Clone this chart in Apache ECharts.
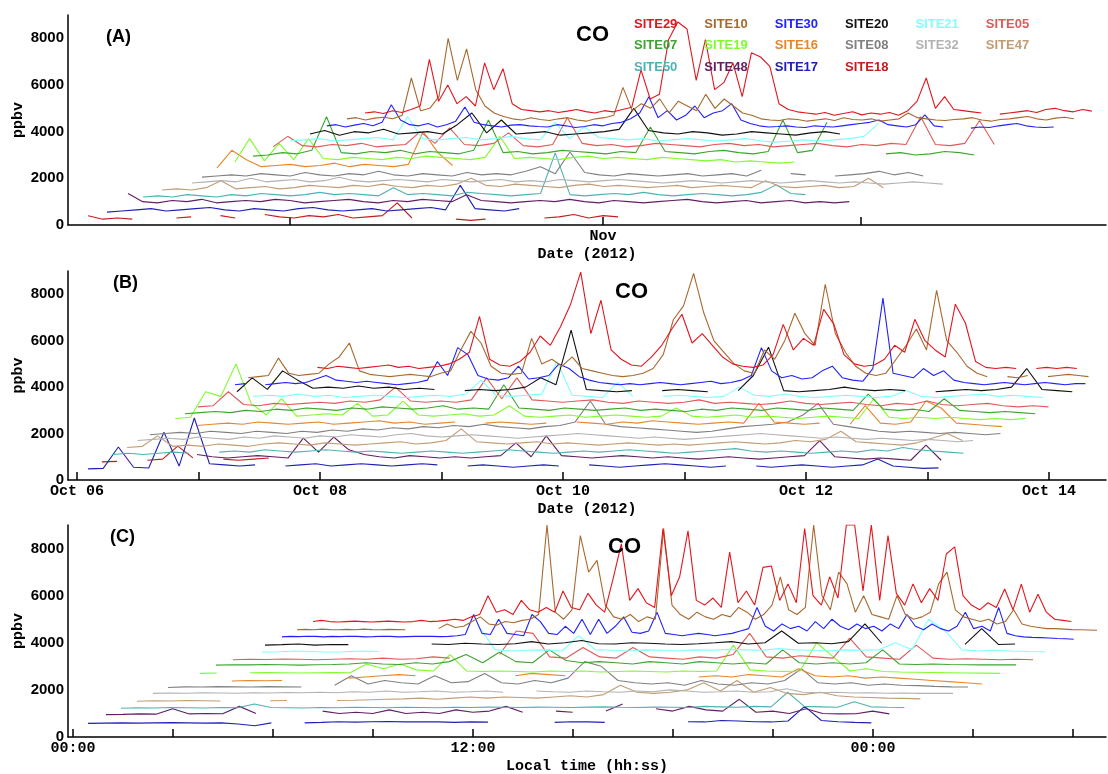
<!DOCTYPE html>
<html>
<head>
<meta charset="utf-8">
<script src="https://cdn.jsdelivr.net/npm/echarts@6/dist/echarts.min.js"></script>
<style>
html, body { margin: 0; padding: 0; background: #fff; }
#main { width: 1108px; height: 774px; }
</style>
</head>
<body>
<div id="main"></div>
<script>
// CO 浓度 (ppbv)，三个面板：(A) 全时段，(B) 10月6-14日，(C) 按当地时间

var sites = ['SITE29','SITE10','SITE30','SITE20','SITE21','SITE05',
             'SITE07','SITE19','SITE16','SITE08','SITE32','SITE47',
             'SITE50','SITE48','SITE17','SITE18'];
var siteColors = ['#e3161e','#a8692f','#2222ff','#111111','#80ffff','#e05a5a',
                  '#3da52f','#7ffc2c','#e8862a','#808080','#b2b2b2','#c29c74',
                  '#4fb2b2','#641e64','#2020b4','#c41c1c'];

var yTicks = [0, 2000, 4000, 6000, 8000];

// (A) x = 2012-10-01 起的天数
var ticksA = [14, 31, 45];
var labelValsA = [31];
var labelTextsA = ['Nov'];
var startA = [18.07, 17.09, 16.0, 15.08, 13.99, 13.07, 11.98, 11.0, 10.03, 9.21, 8.67, 7.04, 6.01, 5.19, 4.05, 3.02];
var stepA = [0.5, 0.5, 0.5, 0.8, 0.8, 0.8, 0.8, 0.8, 0.8, 0.8, 0.8, 0.8, 0.8, 0.8, 0.8, 0.8];

var a29 = [4800,4850,4780,4900,4820,4950,5100,7100,5300,6000,5200,5500,5100,6950,5800,6700,5200,4950,4900,
  4850,4900,4820,4880,4950,4860,4800,4900,4850,4950,5050,
  6650,5400,5600,7950,8700,8400,6200,7950,5800,6100,6950,5500,7380,7200,6800,5200,4950,
  4850,4800,4750,4820,4700,4780,4850,4720,4800,4750,4820,4700,4900,
  5300,6300,5000,5500,4950,4900,
  4850,4800,null,4750,4800,4850,4900,4820,4950,5000,4900,4850,4950,4880];
var a10 = [4550,4600,4500,4580,4620,4550,4700,6300,4900,5000,5500,8000,6200,7550,5800,5100,4800,4650,
  4550,4500,4600,4520,4480,4550,4600,4500,4450,4550,4600,4700,
  5900,4900,5200,5000,5400,4800,5300,5100,4900,5600,5000,5400,5100,4800,4700,
  4550,4500,4480,4550,4520,4450,4500,4550,4480,4600,4520,4500,4550,4450,4500,4550,4800,4600,4550,4500,
  4480,4520,4550,4600,4500,4450,4520,4550,4600,4650,4550,4500,4580,4620,4550];
var a30 = [4250,4300,4200,4280,4350,4250,4400,5150,4500,4300,4250,4350,4200,4300,4450,5060,4400,4300,
  4250,4200,4280,4300,4250,4220,4200,4300,4250,4180,4220,4300,4250,4350,4400,4550,
  4800,5500,4600,4900,4500,4700,5100,4600,4800,4900,5200,4500,
  4350,4250,4200,4220,4250,4200,4180,4250,4220,4200,4250,4300,4350,4400,4500,4300,4250,4200,4300,4720,
  4250,4200,null,null,4150,4200,4180,4250,4300,4350,4250,4200,4180,4200];
var a20 = [3900,4050,3850,4000,3950,4100,3900,3950,4000,3900,4300,4800,3950,4500,3900,3950,4000,3850,3900,3950,
  4000,4100,5000,4050,3950,3900,4000,3950,3850,3900,4000,3950,3900,3850,3950,4000,3900];
var a21 = [3600,3650,3700,3600,3650,3700,3750,3650,4640,3700,3650,3700,3750,3650,3700,3800,3700,3650,4400,3700,
  4200,3750,3700,3650,3700,3600,3650,3700,3650,3600,3650,3700,3600,3550,3600,3650,3600,3650,3700,3800,4370];
var a05 = [3350,3800,3400,3350,3450,3400,3500,3350,3400,3450,4000,3500,4160,3450,3400,3500,3950,3400,3350,3450,
  4600,3500,3400,3450,3350,3400,3500,3450,3400,3350,3450,3500,3400,3450,3350,3400,3450,3500,3400,3350,
  3450,3400,3500,3450,4640,3450,3400,3500,4480,3450];
var a07 = [2950,3000,3100,3050,3200,4640,3100,3050,3150,3100,3200,3050,3150,3100,3050,3200,4500,3100,3150,3050,
  3100,3200,3150,3100,3050,3150,3100,4200,3150,3100,3050,3150,3200,3100,3050,3150,4500,3100,3200,4400,
  null,null,null,3050,3100,3000,3050,3150,3100,3000];
var a19 = [2700,3700,2750,3500,2800,3700,2850,2800,2900,2850,2800,2900,2850,2950,2900,2850,2800,2900,3800,2850,
  2900,2850,2800,2900,2950,2850,2900,2850,2800,2900,2850,2800,2750,2800,2700,2750,2700,2650,2700];
var a16 = [2450,3200,2800,2500,2550,2600,2500,2550,2650,2500,2600,2550,2500,2600,4000,3100,2550];
var a08 = [2050,2100,2150,2100,2200,2150,2100,2250,2150,2100,2200,2150,2300,2150,2100,2200,2150,2100,2250,2150,
  2200,2150,2300,2500,2200,3130,2250,2150,2100,2200,2150,2100,2150,2200,2100,2150,2200,2100,2350,null,
  2200,2150,null,2100,2150,2200,2300,2150,2250,2100];
var a32 = [1800,1850,1900,1850,2000,1850,1900,1950,1850,1900,2050,1900,1850,1900,1950,1900,1850,1950,1900,1850,
  1900,1950,1850,1900,1850,1950,1900,1850,1900,1950,1900,1850,1800,1850,1900,1850,1800,1850,1900,1850,
  1800,1850,1900,1850,1800,1850,1800,1750,1800,1850,1800,1750];
var a47 = [1500,1550,1500,1600,1900,1550,1600,1650,1550,1600,1700,1650,1600,1700,1650,1750,1650,1600,1700,1650,
  1750,2000,1700,1650,1750,1700,1650,1600,1700,1750,1650,1700,1650,1600,1650,1700,1600,1650,1700,1650,
  1600,1900,1650,1600,1650,1700,1600,1650,2000,1600];
var a50 = [1200,1250,1200,1300,1250,1200,1300,1250,1350,1300,1250,1300,1400,1300,1350,1300,1250,1600,1300,1350,
  1300,1250,1400,1350,1300,1250,1300,1350,3090,1300,1250,1300,1350,1300,1400,1300,1250,1300,1350,1300,
  1250,1300,1400,1720,1350,1300];
var a48 = [1350,1000,950,1050,1000,1100,950,1000,1050,1000,1100,1050,950,1000,1050,1100,1000,950,1050,1000,
  1100,1050,1000,1300,1050,1000,950,1000,1050,1000,1100,1000,950,1050,1000,950,1000,1050,1100,1000,
  950,1000,1050,950,1000,1050,950,1000,950,1000];
var a17 = [550,600,650,700,600,650,700,750,650,600,700,650,600,700,750,650,600,650,700,600,
  650,700,750,650,1700,700,650,600,700,null,650];
var a18 = [400,250,300,250,null,null,300,350,null,400,300,null,450,350,300,400,350,450,300,350,
  400,950,300,null,null,250,200,250,null,null,null,300,350,450,300,400,350];
var valuesA = [a29,a10,a30,a20,a21,a05,a07,a19,a16,a08,a32,a47,a50,a48,a17,a18];

// (B) x = 2012-10-06 00:00 起的小时数
var ticksB = [0, 24, 48, 72, 96, 120, 144, 168, 192];
var labelValsB = [0, 48, 96, 144, 192];
var labelTextsB = ['Oct 06', 'Oct 08', 'Oct 10', 'Oct 12', 'Oct 14'];
var startB = [43.5, 33.8, 31.2, 31.6, 34.8, 23.9, 21.3, 19.4, 23.7, 14.4, 12.0, 9.9, 7.1, 23.7, 2.17, 4.9];
var stepB = [2, 2, 2, 3, 3, 3, 3, 3, 3, 3, 3, 3, 3, 3, 3, 3];

var b29 = [4800,null,4850,4800,4900,4850,4800,4850,4900,4950,4850,4900,4800,4850,4900,5000,5200,5500,7050,5200,
  4950,4900,5100,5500,6200,5800,6600,7570,8950,6300,7740,5600,5200,4950,4900,5300,5800,6500,7140,5900,
  6300,5800,5300,5000,4900,4850,4950,5400,6700,5600,6100,5800,7350,6710,5400,5000,4900,4950,5200,5800,
  5500,6920,6000,5600,5300,7570,6750,5100,4850,4800,4850,4800,null,4800,4850,4800,4850,4800];
var b10 = [4400,4450,4500,5250,4600,4500,4550,4600,5000,5300,5900,4700,4550,4500,4450,4500,4550,4500,4450,4600,
  4700,5600,6400,5900,4900,4600,4550,4600,6100,5000,5200,4900,5300,4800,4700,4600,4500,4450,4500,4600,
  4800,5400,6900,7500,8900,7200,6000,5500,5000,4700,4600,5600,5200,6000,7180,6300,5800,8430,6300,5500,
  4900,4600,4500,4600,5200,5800,6500,5600,8170,6000,5500,4900,4600,4450,null,4450,4400,4500,null,4450,
  4500,4550,4500,4450];
var b30 = [4100,4150,null,4100,4150,4200,4150,4200,4350,4500,4300,4250,4200,4250,4200,4150,4100,4150,4200,4300,
  5100,4500,5700,5400,4500,4350,4300,4400,4900,4350,4400,4500,5000,4800,4450,4300,4200,4150,4100,4150,
  4100,4150,4200,4150,4100,4150,4200,4250,4150,4200,4300,4500,5700,4700,4400,4500,4350,4400,4700,4900,
  4400,4300,4250,4800,7830,4600,4500,4400,4800,4500,4700,4300,4200,4150,4100,4150,4200,4150,4100,4150,
  4200,4150,4100,4150,4150];
var b20 = [3800,4400,3900,4700,4300,3950,4000,3950,4050,3950,4000,3900,3950,3900,null,3850,3900,3850,3900,4000,
  4400,4100,6450,3900,3850,3800,3850,null,3850,3900,3850,3800,null,3850,4500,5720,3850,3800,3850,3900,
  4000,3900,3850,3900,3850,null,3800,3850,3900,3850,3900,4000,4800,3900,3850,3800];
var b21 = [3600,3650,3600,3700,3600,3650,3550,3600,3650,3600,3550,3600,3650,3600,3700,4300,3650,3600,3650,3700,
  5100,3650,3600,3550,4200,3600,null,3600,3650,3600,3550,3600,4000,3650,3600,3700,3600,3550,3600,3650,
  3600,3550,3600,3850,3600,3550,3600,3650,3700,3600,3650,3600,3550];
var b05 = [3150,3200,3800,3250,3200,3300,3250,3300,3350,3300,3400,3350,3450,4000,3400,3350,3400,3350,3450,4400,
  3500,4400,3450,3400,3350,3400,3450,3350,3300,3400,3350,3300,3350,3450,3300,3350,3300,3250,3300,3400,
  3300,3250,3300,3350,3250,3200,3300,3250,3400,3250,3200,3250,3300,3200,3150,3200,3150];
var b07 = [2850,2900,2950,2900,3000,2950,3050,3000,3100,3050,3000,3100,3050,3150,3100,3050,3100,3200,3050,3100,
  3050,4100,3100,3050,3000,3100,3050,3000,3050,3100,3000,3050,3000,2950,3050,3000,3100,3050,3000,3100,
  3050,3000,3100,3050,3000,3700,3050,3000,3050,2950,3500,3000,2950,2900,2950,2900,2850];
var b19 = [2650,2700,3800,3600,5000,3300,2800,3500,2750,2800,2850,2800,3300,2750,2800,3400,2800,2750,2800,2850,
  2750,2800,3200,2750,2700,2750,2800,2700,2750,2800,2750,2700,2750,3100,2750,2700,2750,2800,2700,2750,
  2700,2650,2700,2750,2700,2650,3500,2700,2650,2700,2650,2700,2650,2600,2650,2600,2650];
var b16 = [2350,2400,2450,2400,2500,2450,2400,2450,2500,2400,2450,2500,2550,2450,2500,2400,2450,2500,null,2450,
  2500,2450,2400,2450,null,2500,2450,2400,2500,2450,2550,2500,2450,2400,2450,2500,2450,3300,2500,2450,
  2400,2450,null,2400,3200,2450,2400,2500,3400,3100,2450,2400,2350,2300];
var b08 = [1950,2000,2050,2000,2100,2050,2000,2100,2050,2000,2100,2050,2150,2100,2200,2150,2250,2200,2300,2250,
  2350,2300,2400,2300,2250,2200,2300,2350,2500,3400,2400,2300,2250,2200,2150,2100,2050,2100,2200,2300,
  2350,2400,2500,2800,3300,2400,2300,2200,2100,2050,2100,2050,2000,2050,2000,1950,2000];
var b32 = [1700,1750,1800,1750,1850,1800,1750,1850,1800,1900,1850,1800,1900,1850,1950,1900,1850,1950,2000,1900,
  1850,1900,1950,1900,1850,1800,1850,1900,1950,2000,1950,1900,1850,1800,1850,1800,1750,1800,1850,1900,
  1950,2000,1950,1900,1850,1800,1850,1800,1750,1800,1750,1700,1750,1700,1650,1700];
var b47 = [1400,1450,1900,1450,1500,1450,1550,1500,1450,1550,1600,1550,1500,1600,1550,1500,1550,1600,1650,1550,
  1600,1700,2200,1650,1600,1550,1600,1650,1550,1600,1550,1500,1550,1600,1550,1500,1550,1500,1550,1600,
  1650,1600,1550,1600,1700,1650,1750,2100,1650,1600,1550,1500,1600,1800,2000,1700];
var b50 = [1100,1150,1100,1150,1200,1150,null,1200,1250,1200,1300,1250,1200,1250,1300,1250,1200,1250,1200,1150,
  1200,1250,1200,1150,1200,1250,1300,1250,1200,1150,1200,1250,1200,1250,1300,1250,1200,1150,1200,1250,
  1300,1350,1250,1200,1250,1200,1150,1200,1250,1200,1300,1250,1400,1300,1250,1200,1150];
var b48 = [1100,1000,950,1000,1050,1000,950,1800,1200,1850,1300,1100,1000,950,1050,1000,950,1000,950,1000,
  1050,1600,1000,1900,1050,1000,950,1000,1050,1000,950,1000,950,900,950,1000,950,900,950,1000,
  1050,1700,1000,950,900,950,900,850,1500,850];
var b17 = [480,500,1420,550,520,2060,600,2670,700,650,600,650,null,600,650,700,600,650,700,650,
  600,650,700,650,null,600,650,600,550,600,650,600,null,650,600,550,600,650,700,650,
  600,550,600,null,600,550,600,650,600,550,600,650,900,600,550,500,520];
var b18 = [780,800,null,850,900,1460,950,null,900,850,900,950];
var valuesB = [b29,b10,b30,b20,b21,b05,b07,b19,b16,b08,b32,b47,b50,b48,b17,b18];

// (C) x = 当地时间 00:00 起的小时数
var ticksC = [0, 3, 6, 9, 12, 15, 18, 21, 24, 27, 30];
var labelValsC = [0, 12, 24];
var labelTextsC = ['00:00', '12:00', '00:00'];
var startC = [7.2, 6.72, 6.27, 5.76, 5.67, 4.8, 4.29, 3.81, 4.77, 2.85, 2.4, 1.92, 1.44, 0.99, 0.45, 0];
var stepC = [0.25, 0.25, 0.25, 0.5, 0.5, 0.5, 0.5, 0.5, 0.5, 0.5, 0.5, 0.5, 0.5, 0.5, 0.5, 0.5];

var c29 = [4900,4950,4900,4880,4900,4920,4900,4880,4900,4920,4900,4880,4900,4950,4900,4920,4950,5000,4950,5100,
  5200,6000,5300,5400,5200,5800,5400,5300,5500,5300,6200,5500,5400,6100,5600,5300,6700,8200,5800,6300,
  5700,5500,8850,6000,6800,8750,5800,5600,5900,5500,7850,5700,6200,5600,7200,7260,5800,6500,5700,8850,
  6000,5600,6800,5900,9000,9000,6200,9000,5800,8550,6100,5600,6500,5700,6300,5800,7770,8070,6000,5600,
  5400,5700,5500,6280,5400,6490,5300,6060,5300,5000,4950,4900];
var c10 = [4550,4570,4550,4580,4560,4550,4570,4550,4580,4560,4550,4570,4560,4550,null,null,null,4600,4800,4650,
  4700,4900,5100,4800,4750,4900,4850,4950,5000,5200,9000,5300,5000,5400,8550,7000,7500,5600,5100,5000,
  5200,4900,5100,5000,8850,5600,5200,5000,5300,5100,5000,5200,5100,5500,5300,5000,5200,5600,6800,5400,
  5200,5500,9000,6000,5400,7000,6500,5300,6000,5200,5100,5000,6000,5200,5000,5100,5300,6500,7000,5400,
  5100,5000,4900,5000,4800,4900,5400,4800,4700,4650,4600,4600,4580,4560,4550,4540,4530];
var c30 = [4250,4270,4260,4280,4270,4250,4270,4260,4280,4270,4250,4260,4280,4270,4250,4260,4270,4280,4270,4260,
  4270,4300,4350,5200,4400,4350,5000,4400,4350,4300,5200,4900,4400,4350,4700,4400,5000,4350,5000,4400,
  4700,5100,4450,4400,4500,5300,4400,4350,4300,4350,4400,4350,4300,4350,4400,4500,4600,5500,4700,4500,
  4800,4600,4700,4500,4900,4600,5000,4700,4550,4800,4600,4700,4500,4800,4600,5200,4700,4550,4800,4600,
  4500,4700,5300,4600,4700,4500,5500,4400,4300,4250,4230,4220,4200,4180,4170,4150];
var c20 = [3900,3920,3950,3900,3930,3920,null,null,null,null,3950,3930,3980,3950,3930,3960,4050,3950,4000,4100,
  3960,3950,4000,3980,3950,3930,3960,4000,4050,3950,4000,4500,3980,4000,3960,4050,4800,3980,null,null,
  null,null,3930,4600,3930,3950];
var c21 = [3600,3620,3650,3630,3600,3620,3650,3630,null,null,null,null,null,4700,3700,3650,3680,3700,3650,4300,
  3700,3680,3650,3700,3680,3650,3700,3680,3720,3700,3680,3750,3700,3680,3650,3700,3680,3700,4000,3700,
  5000,4500,3700,3650,3680,3650,3630,3620];
var c05 = [3280,3300,3290,3310,3300,3280,3300,3320,3300,3350,3300,3320,3400,3350,null,null,3500,4500,4400,3400,
  3350,3800,3400,3350,3800,3400,3350,3300,3400,3350,3500,4400,3400,3350,3450,3400,3350,4200,3400,3350,
  3300,3900,3350,3300,3320,3300,3280,3300,3280];
var c07 = [3050,3070,3060,3080,3070,3050,3070,3080,3100,3150,3100,3080,3150,3100,3200,3500,3150,3600,3200,3150,
  3700,3250,3150,3200,3150,3100,3200,3150,3100,3200,3150,3100,3150,3100,3700,3150,3100,3150,3100,3150,
  3700,3100,3080,3100,3080,3070,3060,3070,3060];
var c19 = [2700,2720,null,2730,2740,2730,2720,2730,2740,2730,3100,2900,3100,2850,2800,3500,2800,2780,2800,2780,
  2760,2800,2780,2800,2760,2780,2800,2780,2760,2800,2780,2800,3900,2850,2800,2780,2800,4000,3400,2800,
  2900,2780,2760,2750,2740,2730,2720,2710,2700];
var c16 = [2380,2400,2390,2400,null,null,null,2500,2550,2600,2650,2600,null,null,null,null,null,2600,2700,2650,
  2600,null,null,null,null,null,null,null,2550,2600,2550,2650,2600,2550,2900,2600,2550,2600,2500,2550,
  2500,2450,2400,2350,2300,2250];
var c08 = [2100,2130,2120,2140,2130,2120,2140,2130,2120,null,2200,2600,2250,2400,2300,2250,2600,2300,2350,2700,
  2300,2250,2400,2300,2500,3200,3000,2400,2300,2250,2300,2200,2400,2250,2200,2300,2250,2400,2900,2300,
  2250,2300,2200,2250,2200,2180,2150,2130,2120];
var c32 = [1850,1870,1860,1880,1870,1860,1880,1870,1890,1880,1900,1880,1920,1900,1950,1900,1920,1950,1900,1920,
  1950,1900,null,1950,1920,1900,1950,1920,1900,1950,1920,2000,1950,1900,1920,1950,1900,1920,2050,1900,
  1880,1900,1870,1880,1860,1870,1850,1860,1850];
var c47 = [1520,1540,1530,1550,1540,1530,null,null,1540,1550,null,null,1550,1560,1580,1600,1620,1650,1600,1650,
  1700,1650,1700,1680,1650,1700,1750,1700,1800,2200,1900,1850,1900,2000,2300,1950,2400,1900,2100,1850,
  1800,1900,1750,1700,1680,1650,1640,1620];
var c50 = [1220,1240,1230,1250,1240,1230,1250,1240,1400,1250,1240,1230,1250,1240,1260,1250,1240,1260,1250,1240,
  1260,1250,1270,1260,1250,1270,1260,1250,1270,1280,1260,1250,1270,1260,1250,1300,1280,1260,1300,1280,
  1900,1300,1280,1260,1500,1280,1260,1250];
var c48 = [950,960,980,970,1200,980,1000,990,1300,1000,null,null,null,1100,1000,1050,1000,1150,1000,1050,
  1000,1150,1050,1100,1300,1050,null,1100,1050,null,1100,1400,null,1200,1100,1300,1150,1100,1600,1050,
  1100,1000,1200,1000,980,990,1100,980];
var c17 = [580,590,600,590,600,610,600,590,600,550,480,600,null,600,620,650,630,650,660,640,
  650,640,620,640,630,null,null,null,620,650,640,620,null,null,null,null,650,640,700,680,
  650,640,680,1300,700,650,620,600];
var c18 = [];
var valuesC = [c29,c10,c30,c20,c21,c05,c07,c19,c16,c08,c32,c47,c50,c48,c17,c18];

var legendRows = [
	['SITE29','SITE10','SITE30','SITE20','SITE21','SITE05'],
	['SITE07','SITE19','SITE16','SITE08','SITE32','SITE47'],
	['SITE50','SITE48','SITE17','SITE18']
];

var monoFont = {fontFamily: 'Liberation Mono', fontWeight: 'bold', fontSize: 15, color: '#000'};
var axisLineStyle = {color: '#000', width: 1.5};

function colorOf(name) {
	return siteColors[sites.indexOf(name)];
}

// 把每个站点的采样序列转换为 [时间, 值]
function buildSeries(panel, starts, steps, lists) {
	var out = [];
	// 从最下面的站点开始画，红色画在最上面
	for (var k = sites.length - 1; k >= 0; k--) {
		var pts = lists[k].map(function(v, i) {
			return [starts[k] + i * steps[k], v];
		});
		out.push({
			name: sites[k],
			type: 'line',
			xAxisIndex: panel,
			yAxisIndex: panel,
			data: pts,
			symbol: 'none',
			showSymbol: false,
			connectNulls: false,
			silent: true,
			animation: false,
			lineStyle: {width: 1.1, color: siteColors[k]},
			itemStyle: {color: siteColors[k]}
		});
	}
	return out;
}

function xAxisConf(idx, min, max, ticks, labelVals, labelTexts, title) {
	return {
		type: 'value',
		gridIndex: idx,
		min: min,
		max: max,
		axisLine: {onZero: false, lineStyle: axisLineStyle},
		axisTick: {show: true, inside: true, length: 8, customValues: ticks, lineStyle: axisLineStyle},
		axisLabel: {
			customValues: labelVals,
			margin: 4,
			fontFamily: 'Liberation Mono', fontWeight: 'bold', fontSize: 15, color: '#000',
			formatter: function(v) {
				var j = labelVals.indexOf(v);
				return j >= 0 ? labelTexts[j] : '';
			}
		},
		splitLine: {show: false},
		name: title,
		nameLocation: 'middle',
		nameGap: 22,
		nameMoveOverlap: false,
		nameTextStyle: monoFont
	};
}

function yAxisConf(idx) {
	return {
		type: 'value',
		gridIndex: idx,
		min: 0,
		max: 9000,
		axisLine: {show: true, onZero: false, lineStyle: axisLineStyle},
		axisTick: {show: false},
		axisLabel: {
			customValues: yTicks,
			margin: 4,
			fontFamily: 'Liberation Sans', fontWeight: 'bold', fontSize: 15, color: '#000',
			formatter: function(v) { return String(v); }
		},
		splitLine: {show: false},
		name: 'ppbv',
		nameLocation: 'middle',
		nameGap: 42,
		nameMoveOverlap: false,
		nameTextStyle: monoFont
	};
}

var myChart = echarts.init(document.getElementById('main'), null, {renderer: 'canvas'});

var titleStyle = {fontFamily: 'Liberation Sans', fontWeight: 'bold', fontSize: 18, color: '#000'};
var coStyle = {fontFamily: 'Liberation Sans', fontWeight: 'bold', fontSize: 22, color: '#000'};

var option = {
	backgroundColor: '#fff',
	animation: false,
	title: [
		{text: '(A)', left: 106, top: 28, padding: 0, textStyle: titleStyle},
		{text: '(B)', left: 113, top: 274, padding: 0, textStyle: titleStyle},
		{text: '(C)', left: 110, top: 528, padding: 0, textStyle: titleStyle},
		{text: 'CO', left: 576, top: 24, padding: 0, textStyle: coStyle},
		{text: 'CO', left: 615, top: 281, padding: 0, textStyle: coStyle},
		{text: 'CO', left: 608, top: 536, padding: 0, textStyle: coStyle}
	],
	legend: legendRows.map(function(row, r) {
		return {
			top: [17, 38, 60][r],
			left: 629,
			orient: 'horizontal',
			icon: 'none',
			itemWidth: 0,
			itemHeight: 14,
			itemGap: 22,
			padding: 0,
			textStyle: {fontFamily: 'Liberation Sans', fontWeight: 'bold', fontSize: 13},
			data: row.map(function(name) {
				return {name: name, textStyle: {color: colorOf(name)}};
			})
		};
	}),
	grid: [
		{left: 68, right: 2, top: 15, height: 210, outerBoundsMode: 'none'},
		{left: 68, right: 2, top: 271, height: 209, outerBoundsMode: 'none'},
		{left: 68, right: 2, top: 525, height: 212, outerBoundsMode: 'none'}
	],
	xAxis: [
		xAxisConf(0, 1.93, 58.34, ticksA, labelValsA, labelTextsA, 'Date (2012)'),
		xAxisConf(1, -1.78, 203.26, ticksB, labelValsB, labelTextsB, 'Date (2012)'),
		xAxisConf(2, -0.15, 30.99, ticksC, labelValsC, labelTextsC, 'Local time (hh:ss)')
	],
	yAxis: [yAxisConf(0), yAxisConf(1), yAxisConf(2)],
	series: [].concat(
		buildSeries(0, startA, stepA, valuesA),
		buildSeries(1, startB, stepB, valuesB),
		buildSeries(2, startC, stepC, valuesC)
	)
};

myChart.setOption(option);
</script>
</body>
</html>
